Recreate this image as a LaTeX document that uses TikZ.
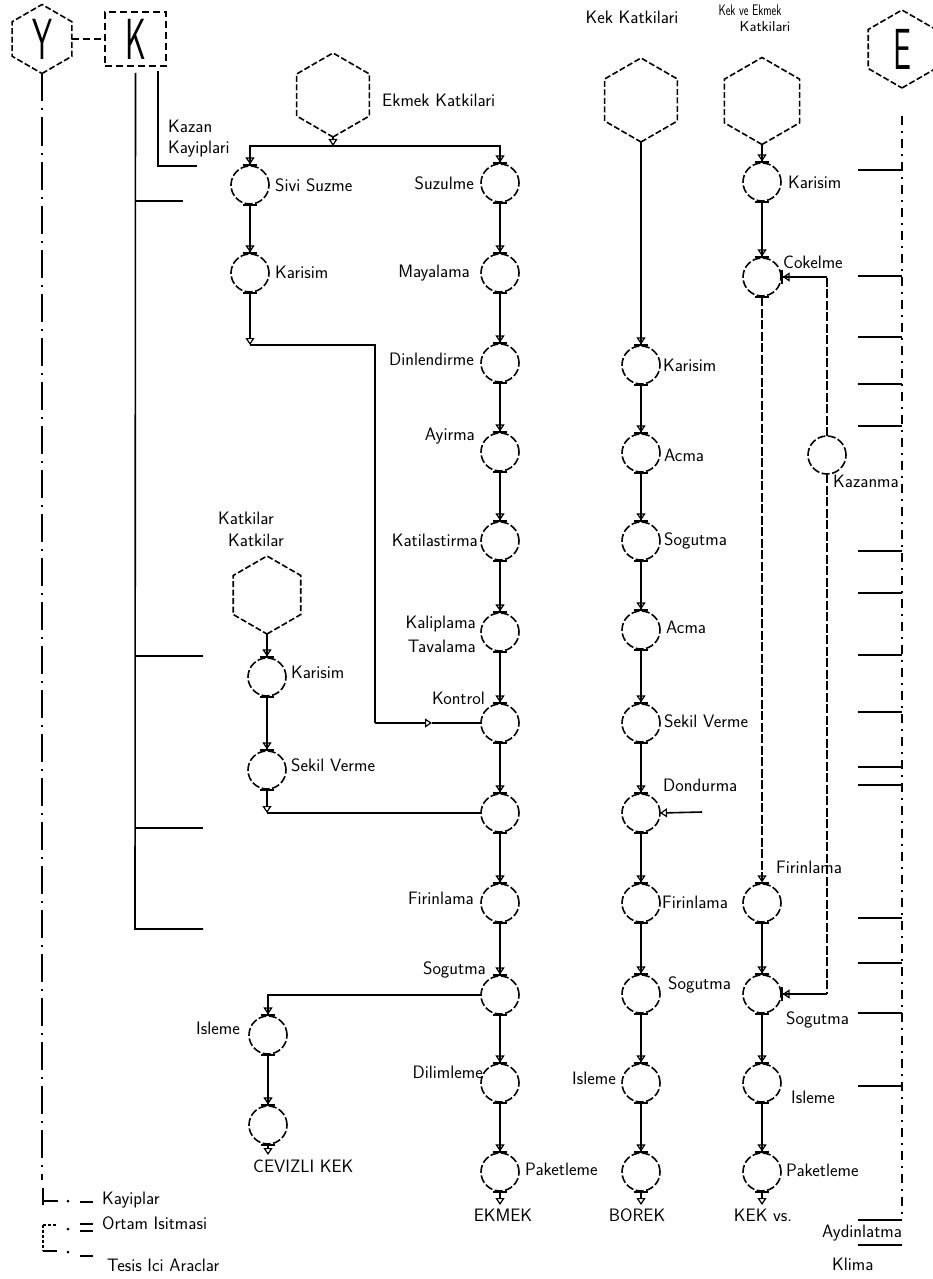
\documentclass[tikz,border=0pt]{standalone}
\usetikzlibrary{arrows.meta,calc}
\newcommand\hexat[2]{\draw[hexd] ($(#1.center)+(90:#2)$) -- ($(#1.center)+(30:#2)$) -- ($(#1.center)+(-30:#2)$) -- ($(#1.center)+(-90:#2)$) -- ($(#1.center)+(-150:#2)$) -- ($(#1.center)+(150:#2)$) -- cycle;}
\begin{document}
\begin{tikzpicture}[x=1pt,y=-1pt,
  every node/.style={font=\sffamily\fontsize{18}{21}\selectfont, inner sep=0pt},
  lw/.style={line width=1.6pt},
  dl/.style={dash pattern=on 9pt off 2.5pt},
  proc/.style={circle, draw, line width=1.6pt, dash pattern=on 8pt off 2.5pt, minimum size=38pt, inner sep=0pt, outer sep=0pt},
  hexn/.style={circle, inner sep=0pt, outer sep=0pt},
  hexd/.style={line width=1.6pt, dash pattern=on 6pt off 2.5pt},
  arr/.style={lw, -{Triangle[open,length=7pt,width=9pt,line width=1.2pt] Bar[width=14pt,line width=1.6pt]}},
  fl/.style={lw, {Bar[width=14pt,line width=1.6pt]}-{Triangle[open,length=7pt,width=9pt,line width=1.2pt] Bar[width=14pt,line width=1.6pt]}},
  bt/.style={lw, {Bar[width=14pt,line width=1.6pt]}-{Triangle[open,length=7pt,width=9pt,line width=1.2pt]}},
  arrt/.style={lw, -{Triangle[open,length=7pt,width=9pt,line width=1.2pt]}},
  big/.style={font=\sffamily\fontsize{58}{58}\selectfont}
]
\useasboundingbox (0,0) rectangle (932,1279);

% ---------- Y, K, E ----------
\node[hexn, minimum size=69pt, big] (hY) at (42,39) {\scalebox{0.55}[1]{Y}};
\hexat{hY}{34.5}
\node[draw, lw, dash pattern=on 7pt off 4pt, minimum width=61pt, minimum height=54pt, big] (Kbox) at (135.5,39) {\scalebox{0.55}[1]{K}};
\draw[lw, dash pattern=on 7pt off 4pt] ($(hY.center)!0.866!(hY.east)$) -- (Kbox.west);
\node[hexn, minimum size=78pt, big] (hE) at (902,49) {\scalebox{0.55}[1]{E}};
\hexat{hE}{39}

% Y line
\coordinate (ybot) at (42,1180);
\draw[lw, dash pattern=on 28pt off 7pt on 2pt off 7pt] (hY.south) -- (ybot);

% K lines
\coordinate (kbend) at (135,929);
\coordinate (kend) at (203,929);
\draw[lw, shorten <=6pt] (Kbox.south) -- (kbend) -- (kend);
\draw[lw] (135,201) -- (183,201);
\draw[lw] (135,656) -- (203,656);
\draw[lw] (135,828) -- (203,828);
\coordinate (kzend) at (197,166);
\draw[lw, shorten <=4pt] ([xshift=-9pt]Kbox.south east) |- (kzend);
\node[anchor=west, align=left] (lkaz1) at (168,139) {Kazan\\Kayiplari};

% E line and ticks
\coordinate (ebot) at (902,1220);
\draw[line width=1.2pt, dash pattern=on 9pt off 6pt on 2pt off 6pt, shorten <=28pt] (hE.south) -- (ebot);
\foreach \yy in {170,276,337,384,426,551,593,655,712,767,785,918,963,1013,1086,1220,1245}
  \draw[lw] (858,\yy) -- (902,\yy);
\node[anchor=west] (lay) at (822,1233) {Aydinlatma};
\node[anchor=west] (lkl) at (832,1264) {Klima};

% ---------- Ekmek Katkilari ----------
\node[hexn, minimum size=84pt] (hEK) at (333,95) {};
\hexat{hEK}{42}
\node[anchor=west] (lEK) at (382,100) {Ekmek Katkilari};
\coordinate (j1) at (333,146);

% main column
\node[proc] (suz) at (500,183) {};
\node[proc] (may) at (500,273) {};
\node[proc] (din) at (500,363) {};
\node[proc] (ayi) at (500,452) {};
\node[proc] (kat) at (500,541) {};
\node[proc] (kal) at (500,632) {};
\node[proc] (kon) at (500,723) {};
\node[proc] (u1) at (500,813) {};
\node[proc] (fir) at (500,903) {};
\node[proc] (sog) at (500,995) {};
\node[proc] (dil) at (500,1083) {};
\node[proc] (pak) at (500,1172) {};
\coordinate (ekm) at (500,1205);
\node[anchor=north] (tekm) at (503,1209) {EKMEK};

\node[anchor=east] (lsuz) at (474,183) {Suzulme};
\node[anchor=east] (lmay) at (470,273) {Mayalama};
\node[anchor=east] (ldin) at (474,359) {Dinlendirme};
\node[anchor=east] (layi) at (475,436) {Ayirma};
\node[anchor=east] (lkat) at (478,540) {Katilastirma};
\node[anchor=east, align=right] (lkal) at (476,634) {Kaliplama\\[3pt]Tavalama};
\node[anchor=east] (lkon) at (485,698) {Kontrol};
\node[anchor=east] (lfir) at (474,898) {Firinlama};
\node[anchor=east] (lsog) at (486,970) {Sogutma};
\node[anchor=east] (ldil) at (483,1072) {Dilimleme};
\node[anchor=west] (lpak) at (525,1169) {Paketleme};

\draw[arrt] (hEK.south) -- (j1);
\draw[arr] (j1) -| (suz.north);
\draw[fl] (suz.south) -- (may.north);
\draw[fl] (may.south) -- (din.north);
\draw[fl] (din.south) -- (ayi.north);
\draw[fl] (ayi.south) -- (kat.north);
\draw[fl] (kat.south) -- (kal.north);
\draw[fl] (kal.south) -- (kon.north);
\draw[fl] (kon.south) -- (u1.north);
\draw[fl] (u1.south) -- (fir.north);
\draw[fl] (fir.south) -- (sog.north);
\draw[fl] (sog.south) -- (dil.north);
\draw[fl] (dil.south) -- (pak.north);
\draw[bt] (pak.south) -- (ekm);

% left branch (Sivi Suzme)
\node[proc] (siv) at (250,185) {};
\node[anchor=west] (lsiv) at (275,185) {Sivi Suzme};
\node[proc] (kar1) at (250,273) {};
\node[anchor=west] (lkar1) at (275,272) {Karisim};
\coordinate (c1) at (250,345);
\coordinate (c2) at (375,345);
\coordinate (c3) at (375,723);
\coordinate (c4) at (432,723);
\draw[arr] (j1) -| (siv.north);
\draw[fl] (siv.south) -- (kar1.north);
\draw[bt] (kar1.south) -- (c1);
\draw[lw] (c1) -- (c2) -- (c3);
\draw[arrt] (c3) -- (c4);
\draw[lw] (c4) -- (kon.west);

% Katkilar branch
\node (tk1) at (246,518) {Katkilar};
\node (tk2) at (256,540) {Katkilar};
\node[hexn, minimum size=78pt] (hKat) at (267,595) {};
\hexat{hKat}{39}
\node[proc] (kar2) at (267,677) {};
\node[anchor=west] (lkar2) at (291,672) {Karisim};
\node[proc] (sek1) at (267,770) {};
\node[anchor=west] (lsek1) at (291,765) {Sekil Verme};
\coordinate (c5) at (267,813);
\draw[arr] (hKat.south) -- (kar2.north);
\draw[fl] (kar2.south) -- (sek1.north);
\draw[bt] (sek1.south) -- (c5);
\draw[lw] (c5) -- (u1.west);

% lower left
\node[proc] (isl1) at (268,1035) {};
\node[anchor=east] (lisl1) at (240,1028) {Isleme};
\node[proc] (cev) at (268,1125) {};
\coordinate (cevb) at (268,1155);
\node[anchor=north west] (tcev) at (253,1160) {CEVIZLI KEK};
\draw[arr] (sog.west) -| (isl1.north);
\draw[fl] (isl1.south) -- (cev.north);
\draw[bt] (cev.south) -- (cevb);

% ---------- Kek column ----------
\node[hexn, minimum size=84pt] (hKK) at (641,100) {};
\hexat{hKK}{42}
\node (tKK) at (632,17) {Kek Katkilari};
\node[proc] (kkar) at (641,365) {};
\node[proc] (kacm1) at (641,453) {};
\node[proc] (ksog1) at (641,541) {};
\node[proc] (kacm2) at (641,630) {};
\node[proc] (ksek) at (641,723) {};
\node[proc] (kdon) at (641,813) {};
\node[proc] (kfir) at (641,903) {};
\node[proc] (ksog2) at (641,994) {};
\node[proc] (kisl) at (641,1083) {};
\node[proc] (kpak) at (641,1172) {};
\coordinate (kb) at (641,1205);
\coordinate (kdin) at (702,812);
\node[anchor=north] (tbor) at (637,1209) {BOREK};

\node[anchor=west] (lkkar) at (663,365) {Karisim};
\node[anchor=west] (lkacm1) at (664,455) {Acma};
\node[anchor=west] (lksog1) at (664,541) {Sogutma};
\node[anchor=west] (lkacm2) at (666,627) {Acma};
\node[anchor=west] (lksek) at (664,721) {Sekil Verme};
\node[anchor=west] (lkdon) at (663,785) {Dondurma};
\node[anchor=west] (lkfir) at (662,902) {Firinlama};
\node[anchor=west] (lksog2) at (668,985) {Sogutma};
\node[anchor=east] (lkisl) at (616,1078) {Isleme};

\draw[arr] (hKK.south) -- (kkar.north);
\draw[fl] (kkar.south) -- (kacm1.north);
\draw[fl] (kacm1.south) -- (ksog1.north);
\draw[fl] (ksog1.south) -- (kacm2.north);
\draw[fl] (kacm2.south) -- (ksek.north);
\draw[fl] (ksek.south) -- (kdon.north);
\draw[fl] (kdon.south) -- (kfir.north);
\draw[fl] (kfir.south) -- (ksog2.north);
\draw[fl] (ksog2.south) -- (kisl.north);
\draw[fl] (kisl.south) -- (kpak.north);
\draw[bt] (kpak.south) -- (kb);
\draw[arrt] (kdin) -- (kdon.east);

% ---------- Kek ve Ekmek column ----------
\node[hexn, minimum size=87pt] (hKE) at (762,101) {};
\hexat{hKE}{43.5}
\node (tKE1) at (750,10) {\scalebox{0.62}[0.85]{Kek ve Ekmek}};
\node (tKE2) at (765,27) {\scalebox{0.85}[0.8]{Katkilari}};
\node[proc] (ekar) at (762,182) {};
\node[proc] (cok) at (762,277) {};
\node[proc] (efir) at (762,903) {};
\node[proc] (esog) at (762,994) {};
\node[proc] (eisl) at (762,1083) {};
\node[proc] (epak) at (762,1172) {};
\coordinate (eb) at (762,1205);
\node[anchor=north] (tkek) at (763,1209) {KEK vs.};

\node[anchor=west] (lekar) at (788,182) {Karisim};
\node[anchor=west] (lcok) at (783,262) {Cokelme};
\node[anchor=west] (lefir) at (776,867) {Firinlama};
\node[anchor=west] (lesog) at (786,1020) {Sogutma};
\node[anchor=west] (leisl) at (791,1097) {Isleme};
\node[anchor=west] (lepak) at (786,1170) {Paketleme};

\draw[arr] (hKE.south) -- (ekar.north);
\draw[fl] (ekar.south) -- (cok.north);
\draw[fl, dl] (cok.south) -- (efir.north);
\draw[fl] (efir.south) -- (esog.north);
\draw[fl] (esog.south) -- (eisl.north);
\draw[fl] (eisl.south) -- (epak.north);
\draw[bt] (epak.south) -- (eb);

% Kazanma loop
\node[proc] (kaz) at (827,455) {};
\node[anchor=west] (lkaz) at (833,481) {Kazanma};
\coordinate (kz) at (827,277);
\coordinate (kz2) at (827,994);
\draw[lw, dl] (kaz.north) -- (kz);
\draw[arr] (kz) -- (cok.east);
\draw[lw, dl] (kaz.south) -- (kz2);
\draw[arr] (kz2) -- (esog.east);

% ---------- legend ----------
\draw[lw] (43,1188) -- (43,1205);
\draw[lw] (43,1201) -- (58,1201);
\fill (68,1201) circle[radius=1.5pt];
\draw[lw] (80,1202) -- (93,1202);
\node[anchor=west] (lg1) at (102,1200) {Kayiplar};
\draw[lw, dash pattern=on 3pt off 2pt] (43,1225) -- (57,1225);
\draw[lw, dash pattern=on 3pt off 2pt] (43,1225) -- (43,1251);
\fill (68,1229) circle[radius=1.5pt];
\draw[lw] (80,1224) -- (93,1224);
\draw[lw] (80,1231) -- (93,1231);
\node[anchor=west] (lg2) at (102,1223) {Ortam Isitmasi};
\draw[lw] (43,1251) -- (57,1251);
\fill (68,1252) circle[radius=1.5pt];
\draw[lw] (80,1256) -- (93,1256);
\node[anchor=west] (lg3) at (107,1265) {Tesis Ici Araclar};
\end{tikzpicture}
\end{document}
